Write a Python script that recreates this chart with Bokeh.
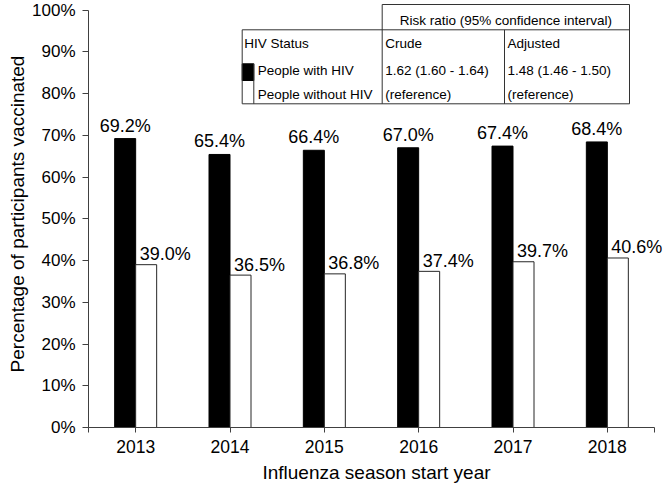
from bokeh.plotting import figure
from bokeh.models import FixedTicker, PrintfTickFormatter, ColumnDataSource, Range1d
from bokeh.transform import dodge
from bokeh.core.properties import value
from bokeh.embed import file_html
from bokeh.resources import INLINE

# ---------------- data ----------------
years = [2013, 2014, 2015, 2016, 2017, 2018]
with_hiv = [69.2, 65.4, 66.4, 67.0, 67.4, 68.4]
without_hiv = [39.0, 36.5, 36.8, 37.4, 39.7, 40.6]
y_ticks = list(range(0, 101, 10))

table_header = "Risk ratio (95% confidence interval)"
table_cols = ["HIV Status", "Crude", "Adjusted"]
table_rows = ["People with HIV", "People without HIV"]
crude = ["1.62 (1.60 - 1.64)", "(reference)"]
adjusted = ["1.48 (1.46 - 1.50)", "(reference)"]
x_title = "Influenza season start year"
y_title = "Percentage of participants vaccinated"

# ---------------- layout ----------------
FONT = "Liberation Sans"
W, H = 664, 488
L, R, T, B = 88, 0, 0, 61
FW = W - L - R
FH = H - T - B
Y100 = 9.5
ppu = (FH - Y100) / 100.0
y_end = FH / ppu
ppx = 566.0 / 6
x_start = 2012.5
x_axis_end = 2018.5
x_end = x_start + FW / ppx
off = 10.5 / ppx
bw = 21.0 / ppx


def dx(fx):
    return x_start + (fx - L) / ppx


def dy(fy):
    return (T + FH - fy) / ppu


p = figure(width=W, height=H, x_range=Range1d(x_start, x_end), y_range=Range1d(0, y_end),
           output_backend="svg", toolbar_location=None,
           min_border_left=L, min_border_right=R, min_border_top=T, min_border_bottom=B)
if p.title is not None:
    p.title.visible = False
p.outline_line_color = None
p.grid.visible = False
p.background_fill_color = "white"
p.border_fill_color = "white"

src = ColumnDataSource(dict(
    year=years, with_hiv=with_hiv, without_hiv=without_hiv,
    with_lbl=[f"{v:.1f}%" for v in with_hiv],
    without_lbl=[f"{v:.1f}%" for v in without_hiv],
))

p.vbar(x=dodge("year", -off, range=p.x_range), top="with_hiv", width=bw, source=src,
       fill_color="black", line_color="black", line_width=1)
p.vbar(x=dodge("year", off, range=p.x_range), top="without_hiv", width=bw, source=src,
       fill_color="white", line_color="#262626", line_width=1)

p.text(x=dodge("year", -off, range=p.x_range), y="with_hiv", text="with_lbl", source=src,
       text_align="center", text_baseline="alphabetic", y_offset=-13,
       text_font=value(FONT), text_font_size="18px", text_color="black")
p.text(x="year", y="without_hiv", text="without_lbl", source=src,
       text_align="left", text_baseline="alphabetic", x_offset=4, y_offset=-10.5,
       text_font=value(FONT), text_font_size="18px", text_color="black")

# ---------------- axes ----------------
AX = "#404040"
yax = p.yaxis[0]
yax.ticker = FixedTicker(ticks=y_ticks)
yax.formatter = PrintfTickFormatter(format="%d%%")
yax.bounds = (0, 100)
yax.axis_line_color = AX
yax.major_tick_line_color = AX
yax.major_tick_out = 6
yax.major_tick_in = 0
yax.minor_tick_line_color = None
yax.major_label_standoff = 7
yax.major_label_text_font = FONT
yax.major_label_text_font_size = "17px"
yax.major_label_text_color = "black"
yax.axis_label = y_title
yax.axis_label_text_font = FONT
yax.axis_label_text_font_size = "19px"
yax.axis_label_text_font_style = "normal"
yax.axis_label_text_color = "black"
yax.axis_label_standoff = 1

xax = p.xaxis[0]
xax.ticker = FixedTicker(ticks=years, minor_ticks=[x_start, x_axis_end])
xax.bounds = (x_start, x_axis_end)
xax.axis_line_color = AX
xax.major_tick_line_color = AX
xax.major_tick_out = 5
xax.major_tick_in = 0
xax.minor_tick_line_color = AX
xax.minor_tick_out = 5
xax.minor_tick_in = 0
xax.major_label_standoff = 7
xax.major_label_text_font = FONT
xax.major_label_text_font_size = "17.5px"
xax.major_label_text_color = "black"
xax.axis_label = x_title
xax.axis_label_text_font = FONT
xax.axis_label_text_font_size = "19px"
xax.axis_label_text_font_style = "normal"
xax.axis_label_text_color = "black"
xax.axis_label_standoff = 6

# ---------------- table (pixel layout converted to data space) ----------------
t_top, t_hdr, t_bot = 4, 29.3, 103.3
t_left, t_sw, t_c1, t_c2, t_right = 241.7, 253.3, 381.7, 504, 629
sw_top, sw_mid = 63.3, 80
row_y = [70, 93.5]
hdr_y = 19.5
col_y = 43

p.quad(left=[dx(t_left)], right=[dx(t_sw)], top=[dy(sw_top)], bottom=[dy(sw_mid)],
       fill_color="black", line_color="black")

x0 = [t_c1, t_left, t_left, t_left, t_c1, t_c2, t_right, t_sw]
x1 = [t_right, t_right, t_right, t_left, t_c1, t_c2, t_right, t_sw]
y0 = [t_top, t_hdr, t_bot, t_hdr, t_top, t_hdr, t_top, sw_top]
y1 = [t_top, t_hdr, t_bot, t_bot, t_bot, t_bot, t_bot, t_bot]
p.segment(x0=[dx(v) for v in x0], x1=[dx(v) for v in x1],
          y0=[dy(v) for v in y0], y1=[dy(v) for v in y1],
          line_color="#333333", line_width=1)

tx, ty, tt, ta = [], [], [], []
tx.append((t_c1 + t_right) / 2); ty.append(hdr_y); tt.append(table_header); ta.append("center")
for xp, txt in zip([t_left + 2, t_c1 + 3, t_c2 + 3], table_cols):
    tx.append(xp); ty.append(col_y); tt.append(txt); ta.append("left")
for i in range(2):
    tx.append(t_sw + 4); ty.append(row_y[i]); tt.append(table_rows[i]); ta.append("left")
    tx.append(t_c1 + 3); ty.append(row_y[i]); tt.append(crude[i]); ta.append("left")
    tx.append(t_c2 + 3); ty.append(row_y[i]); tt.append(adjusted[i]); ta.append("left")

tsrc = ColumnDataSource(dict(x=[dx(v) for v in tx], y=[dy(v) for v in ty], text=tt, align=ta))
p.text(x="x", y="y", text="text", text_align="align", source=tsrc, text_baseline="middle",
       text_font=value(FONT), text_font_size="13.5px", text_color="black")

open("out.html", "w").write(file_html(p, INLINE))
